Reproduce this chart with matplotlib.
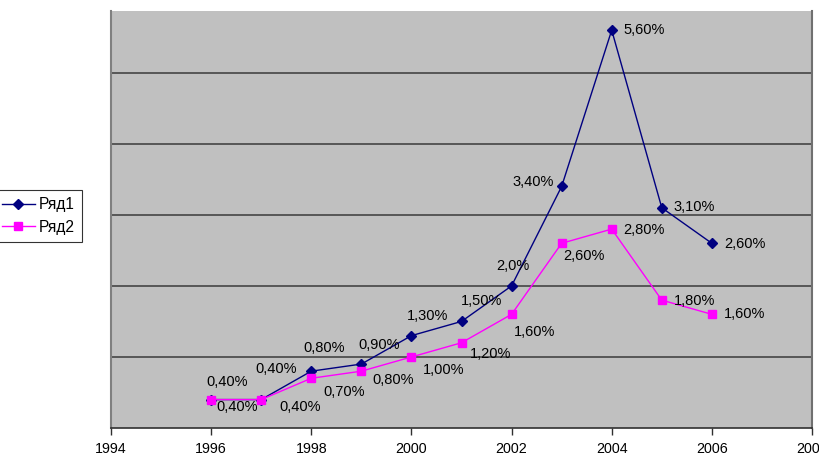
import matplotlib
matplotlib.use("Agg")
import matplotlib.pyplot as plt
from matplotlib.lines import Line2D

plt.rcParams['font.family'] = ['Liberation Sans', 'DejaVu Sans']

years = [1996, 1997, 1998, 1999, 2000, 2001, 2002, 2003, 2004, 2005, 2006]
series1 = [0.4, 0.4, 0.8, 0.9, 1.3, 1.5, 2.0, 3.4, 5.6, 3.1, 2.6]
series2 = [0.4, 0.4, 0.7, 0.8, 1.0, 1.2, 1.6, 2.6, 2.8, 1.8, 1.6]
labels1 = ["0,40%", "0,40%", "0,80%", "0,90%", "1,30%", "1,50%", "2,0%",
           "3,40%", "5,60%", "3,10%", "2,60%"]
labels2 = ["0,40%", "0,40%", "0,70%", "0,80%", "1,00%", "1,20%", "1,60%",
           "2,60%", "2,80%", "1,80%", "1,60%"]
names = ["Ряд1", "Ряд2"]
xticks = [1994, 1996, 1998, 2000, 2002, 2004, 2006, 2008]

# label offsets in pixels (dx of label left edge, dy of label center; +up)
off1 = [(-5, 18), (-6, 31), (-8, 23), (-3, 19), (-5, 20), (-1, 20), (-15, 20),
        (-49, 4), (12, 0), (12, 1), (12, -1)]
off2 = [(5, -7), (18, -7), (12, -14), (11, -9), (11, -13), (8, -11), (2, -18),
        (2, -13), (12, -1), (12, -1), (12, 0)]

W, H = 819, 457
fig = plt.figure(figsize=(W / 100, H / 100), dpi=100)
ax = fig.add_axes([111 / W, (H - 428) / H, (812 - 111) / W, (428 - 11) / H])
ax.set_facecolor("#C0C0C0")
ax.set_xlim(1994, 2008)
ax.set_ylim(0, 5.87)

for yv in [1, 2, 3, 4, 5]:
    ax.axhline(yv, color="#3a3a3a", lw=1.1, zorder=1)

ax.plot(years, series1, color="#000080", lw=1.0, marker="D", ms=4.8,
        mfc="#000080", mec="#000080", zorder=3)
ax.plot(years, series2, color="#FF00FF", lw=1.0, marker="s", ms=5.5,
        mfc="#FF00FF", mec="#FF00FF", zorder=3)

for x, y, t, (dx, dy) in zip(years, series1, labels1, off1):
    ax.annotate(t, (x, y), xytext=(dx * 0.72, dy * 0.72), textcoords="offset points",
                ha="left", va="center", fontsize=10.5, color="black", zorder=4)
for x, y, t, (dx, dy) in zip(years, series2, labels2, off2):
    ax.annotate(t, (x, y), xytext=(dx * 0.72, dy * 0.72), textcoords="offset points",
                ha="left", va="center", fontsize=10.5, color="black", zorder=4)

ax.set_xticks(xticks)
ax.set_xticklabels([str(v) for v in xticks], fontsize=10.3)
ax.set_yticks([])
ax.tick_params(axis="x", direction="out", length=5, width=1, color="#303030", pad=5)
ax.spines["top"].set_visible(False)
ax.spines["left"].set_color("#808080")
ax.spines["left"].set_linewidth(1.5)
ax.spines["right"].set_color("#707070")
ax.spines["right"].set_linewidth(1.5)
ax.spines["bottom"].set_color("#303030")
ax.spines["bottom"].set_linewidth(1.2)

handles = [Line2D([], [], color="#000080", lw=1.0, marker="D", ms=4.8, mfc="#000080"),
           Line2D([], [], color="#FF00FF", lw=1.0, marker="s", ms=5.5, mfc="#FF00FF")]
leg = fig.legend(handles, names, loc="upper left",
                 bbox_to_anchor=(-0.006, (H - 190) / H), fontsize=11.2,
                 frameon=True, fancybox=False, edgecolor="black",
                 handlelength=2.1, handletextpad=0.25, borderpad=0.45,
                 labelspacing=0.5, borderaxespad=0)
leg.get_frame().set_linewidth(0.8)

fig.savefig("out.png", dpi=100)
